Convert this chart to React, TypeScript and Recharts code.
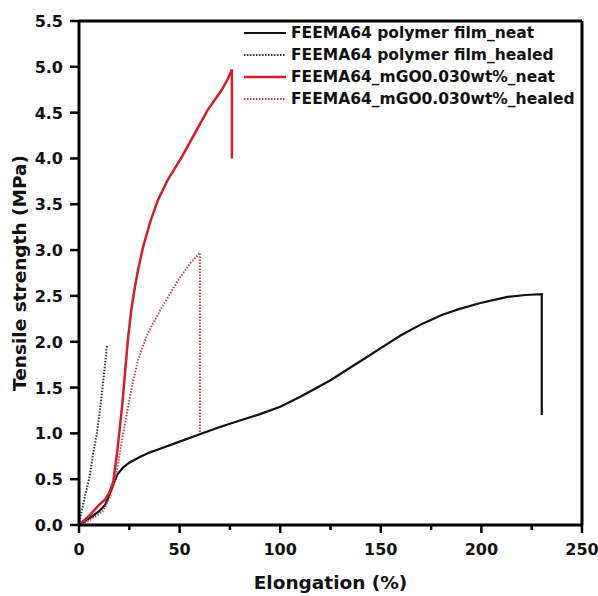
import { LineChart, Line, XAxis, YAxis, ReferenceLine, Label } from "recharts";

const FONT = "'DejaVu Sans', sans-serif";

// elongation (%) vs tensile strength (MPa)
const filmNeat = [
  { e: 0, s: 0 }, { e: 5, s: 0.07 }, { e: 10, s: 0.15 }, { e: 13, s: 0.22 }, { e: 16, s: 0.38 },
  { e: 19, s: 0.55 }, { e: 22, s: 0.63 }, { e: 25, s: 0.68 }, { e: 30, s: 0.74 }, { e: 35, s: 0.79 },
  { e: 40, s: 0.83 }, { e: 50, s: 0.91 }, { e: 60, s: 0.99 }, { e: 70, s: 1.07 }, { e: 80, s: 1.14 },
  { e: 90, s: 1.21 }, { e: 100, s: 1.29 }, { e: 110, s: 1.4 }, { e: 125, s: 1.58 }, { e: 140, s: 1.79 },
  { e: 150, s: 1.93 }, { e: 160, s: 2.07 }, { e: 171, s: 2.2 }, { e: 180, s: 2.29 }, { e: 188, s: 2.35 },
  { e: 199, s: 2.42 }, { e: 213, s: 2.49 }, { e: 222, s: 2.51 }, { e: 230, s: 2.52 }, { e: 230, s: 1.2 },
];
const filmHealed = [
  { e: 0, s: 0 }, { e: 1, s: 0.12 }, { e: 3, s: 0.32 }, { e: 5.5, s: 0.55 }, { e: 7, s: 0.78 },
  { e: 8.9, s: 1.0 }, { e: 10.2, s: 1.22 }, { e: 11.4, s: 1.44 }, { e: 12.7, s: 1.7 }, { e: 13.9, s: 1.96 },
];
const mgoNeat = [
  { e: 0, s: 0 }, { e: 5, s: 0.1 }, { e: 10, s: 0.22 }, { e: 13, s: 0.28 }, { e: 15, s: 0.35 },
  { e: 17, s: 0.47 }, { e: 19, s: 0.8 }, { e: 21.4, s: 1.29 }, { e: 24.3, s: 2.02 }, { e: 26, s: 2.35 },
  { e: 27.8, s: 2.6 }, { e: 29.5, s: 2.8 }, { e: 31.8, s: 3.03 }, { e: 35.3, s: 3.3 }, { e: 39.3, s: 3.55 },
  { e: 44.2, s: 3.77 }, { e: 51.2, s: 4.02 }, { e: 57.7, s: 4.28 }, { e: 64, s: 4.53 }, { e: 71, s: 4.75 },
  { e: 74, s: 4.87 }, { e: 76, s: 4.97 }, { e: 76, s: 4.0 },
];
const mgoHealed = [
  { e: 0, s: 0 }, { e: 5, s: 0.05 }, { e: 11.5, s: 0.14 }, { e: 15, s: 0.28 }, { e: 17, s: 0.42 },
  { e: 18.9, s: 0.6 }, { e: 21.4, s: 0.93 }, { e: 23.8, s: 1.22 }, { e: 26.3, s: 1.51 }, { e: 29.3, s: 1.8 },
  { e: 34.3, s: 2.1 }, { e: 41.3, s: 2.38 }, { e: 49.2, s: 2.67 }, { e: 55, s: 2.85 }, { e: 60.1, s: 2.97 },
  { e: 60.1, s: 1.0 },
];

const xTicks = [0, 25, 50, 75, 100, 125, 150, 175, 200, 225, 250];
const yTicks = [0, 0.5, 1, 1.5, 2, 2.5, 3, 3.5, 4, 4.5, 5, 5.5];

const series = [
  { name: "FEEMA64 polymer film_neat", data: filmNeat, color: "#111", dash: undefined, width: 2.2 },
  { name: "FEEMA64 polymer film_healed", data: filmHealed, color: "#333", dash: "1.5 1.5", width: 2 },
  { name: "FEEMA64_mGO0.030wt%_neat", data: mgoNeat, color: "#d0202a", dash: undefined, width: 2.5 },
  { name: "FEEMA64_mGO0.030wt%_healed", data: mgoHealed, color: "#c8454f", dash: "1.5 1.5", width: 2 },
];

function XTick(props: any) {
  const x = Number(props.x);
  const y = Number(props.y);
  const v = props.payload.value;
  const major = v % 50 === 0;
  return (
    <g>
      <rect x={x - 1.25} y={y} width={2.5} height={major ? 8 : 5} fill="#000" />
      {major && (
        <text x={x} y={y + 30} textAnchor="middle" fontFamily={FONT} fontWeight="bold" fontSize={16} fill="#111">
          {v}
        </text>
      )}
    </g>
  );
}

function YTick(props: any) {
  const x = Number(props.x);
  const y = Number(props.y);
  const v = Number(props.payload.value);
  return (
    <g>
      <rect x={x - 9} y={y - 1.25} width={9} height={2.5} fill="#000" />
      <text x={x - 16} y={y + 6} textAnchor="end" fontFamily={FONT} fontWeight="bold" fontSize={16} fill="#111">
        {v.toFixed(1)}
      </text>
    </g>
  );
}

function LegendBox() {
  return (
    <div style={{ position: "absolute", left: 242, top: 22 }}>
      {series.map((s) => (
        <div key={s.name} style={{ display: "flex", alignItems: "center", height: 22 }}>
          <svg width={49} height={22}>
            <line x1={2} x2={44} y1={11} y2={11} stroke={s.color} strokeWidth={s.width} strokeDasharray={s.dash} />
          </svg>
          <span style={{ fontFamily: FONT, fontWeight: "bold", fontSize: 15.5, color: "#111", whiteSpace: "nowrap" }}>
            {s.name}
          </span>
        </div>
      ))}
    </div>
  );
}

export default function App() {
  return (
    <div style={{ position: "absolute", left: 0, top: 0, width: 598, height: 596, background: "#fff" }}>
      <LineChart width={598} height={596} margin={{ top: 21, right: 16, bottom: 0, left: 0 }}>
        <XAxis
          dataKey="e"
          type="number"
          domain={[0, 250]}
          ticks={xTicks}
          interval={0}
          tick={<XTick />}
          tickLine={false}
          tickSize={0}
          tickMargin={0}
          axisLine={{ stroke: "#000", strokeWidth: 3 }}
          height={71}
        >
          <Label value="Elongation (%)" position="insideBottom" offset={7} style={{ fontFamily: FONT, fontWeight: "bold", fontSize: 18.5, fill: "#111" }} />
        </XAxis>
        <YAxis
          type="number"
          domain={[0, 5.5]}
          ticks={yTicks}
          interval={0}
          tick={<YTick />}
          tickLine={false}
          tickSize={0}
          tickMargin={0}
          axisLine={{ stroke: "#000", strokeWidth: 3 }}
          width={79}
        >
          <Label value="Tensile strength (MPa)" angle={-90} position="insideLeft" offset={19} style={{ fontFamily: FONT, fontWeight: "bold", fontSize: 18.5, fill: "#111", textAnchor: "middle" }} />
        </YAxis>
        <ReferenceLine y={5.5} stroke="#000" strokeWidth={3} ifOverflow="visible" />
        <ReferenceLine x={250} stroke="#000" strokeWidth={3} ifOverflow="visible" />
        {series.map((s) => (
          <Line
            key={s.name}
            data={s.data}
            dataKey="s"
            name={s.name}
            type="linear"
            stroke={s.color}
            strokeWidth={s.width}
            strokeDasharray={s.dash}
            dot={false}
            activeDot={false}
            isAnimationActive={false}
          />
        ))}
      </LineChart>
      <LegendBox />
    </div>
  );
}
